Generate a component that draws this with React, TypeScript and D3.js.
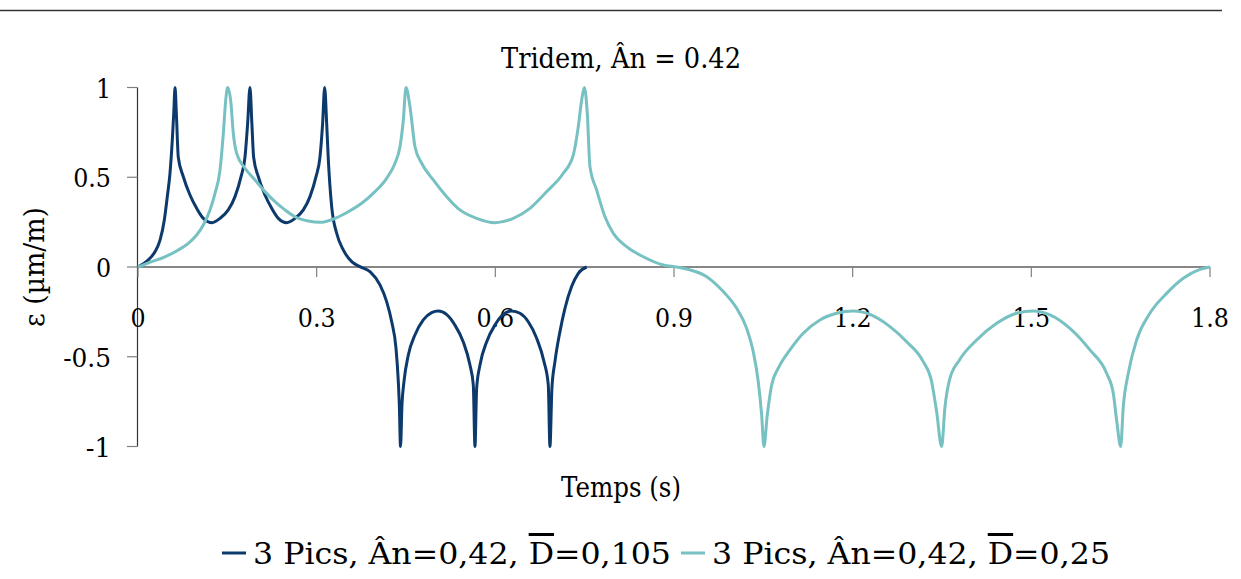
import React, { useRef, useEffect } from 'react';
import * as d3 from 'd3';

// 3 Pics, Ân=0,42, D=0,105
const darkTime = [
  0, 0.017, 0.0285, 0.037, 0.0442, 0.0492, 0.0537, 0.0576, 0.06, 0.0622,
  0.0644, 0.0677, 0.0761, 0.0873, 0.0985, 0.1097, 0.1245, 0.1377, 0.1516, 0.1629,
  0.173, 0.1797, 0.1841, 0.188, 0.1912, 0.1942, 0.202, 0.2132, 0.2245, 0.2356,
  0.2497, 0.2636, 0.2776, 0.2888, 0.2989, 0.3056, 0.31, 0.3134, 0.3168, 0.3196,
  0.3252, 0.3336, 0.3447, 0.3588, 0.3735, 0.3895, 0.4063, 0.4175, 0.426, 0.4332,
  0.4371, 0.4388, 0.4408, 0.4432, 0.4466, 0.4539, 0.465, 0.479, 0.493, 0.5043,
  0.518, 0.532, 0.546, 0.5574, 0.563, 0.5658, 0.5686, 0.5742, 0.5855, 0.5994,
  0.6133, 0.6274, 0.6414, 0.6553, 0.6694, 0.6817, 0.6889, 0.6917, 0.695, 0.7001,
  0.7085, 0.7169, 0.7281, 0.7393, 0.7534,
];
const darkStrain = [
  0, 0.039, 0.085, 0.15, 0.262, 0.392, 0.522, 0.708, 0.856, 1,
  0.856, 0.61, 0.503, 0.401, 0.327, 0.271, 0.247, 0.271, 0.318, 0.392,
  0.503, 0.614, 0.8, 1, 0.8, 0.61, 0.503, 0.401, 0.327, 0.271,
  0.247, 0.271, 0.318, 0.392, 0.503, 0.614, 0.8, 1, 0.8, 0.596,
  0.336, 0.188, 0.095, 0.03, 0.001, -0.026, -0.1, -0.193, -0.305, -0.453,
  -0.639, -0.769, -1, -0.77, -0.639, -0.49, -0.379, -0.295, -0.254, -0.245,
  -0.264, -0.323, -0.416, -0.546, -0.657, -1, -0.676, -0.546, -0.416, -0.323,
  -0.264, -0.245, -0.258, -0.305, -0.397, -0.527, -0.657, -1, -0.676, -0.527,
  -0.36, -0.23, -0.109, -0.035, 0,
];

// 3 Pics, Ân=0,42, D=0,25
const lightTime = [
  0, 0.023, 0.0453, 0.0677, 0.0845, 0.0985, 0.1097, 0.1209, 0.1293, 0.1377,
  0.1433, 0.1473, 0.1506, 0.1561, 0.16, 0.1657, 0.1797, 0.1964, 0.2132, 0.23,
  0.2468, 0.2636, 0.286, 0.3056, 0.3308, 0.3531, 0.3756, 0.3979, 0.4175, 0.4315,
  0.4399, 0.4455, 0.45, 0.4567, 0.4651, 0.4763, 0.4958, 0.5183, 0.5406, 0.5686,
  0.5994, 0.6301, 0.6582, 0.6862, 0.7141, 0.7309, 0.7393, 0.745, 0.7494, 0.7544,
  0.7589, 0.7701, 0.7841, 0.798, 0.8205, 0.8484, 0.882, 0.9045, 0.9212, 0.9548,
  0.9827, 1.0052, 1.022, 1.0331, 1.0415, 1.0472, 1.051, 1.0566, 1.064, 1.0751,
  1.0947, 1.117, 1.1451, 1.1731, 1.201, 1.229, 1.2626, 1.2906, 1.3185, 1.3326,
  1.341, 1.3494, 1.355, 1.3625, 1.3793, 1.4082, 1.4418, 1.4753, 1.5032, 1.5312,
  1.5648, 1.5984, 1.6264, 1.6376, 1.6432, 1.65, 1.6544, 1.6628, 1.6768, 1.6991,
  1.7272, 1.7551, 1.7831, 1.8,
];
const lightStrain = [
  0, 0.03, 0.057, 0.095, 0.132, 0.178, 0.234, 0.318, 0.41, 0.54,
  0.745, 0.93, 1, 0.912, 0.745, 0.633, 0.55, 0.485, 0.42, 0.364,
  0.318, 0.28, 0.256, 0.249, 0.271, 0.308, 0.355, 0.42, 0.494, 0.578,
  0.67, 0.819, 1, 0.893, 0.67, 0.578, 0.485, 0.392, 0.318, 0.271,
  0.247, 0.271, 0.327, 0.42, 0.522, 0.624, 0.782, 0.93, 1, 0.856,
  0.559, 0.429, 0.28, 0.188, 0.113, 0.057, 0.011, 0, -0.011, -0.054,
  -0.137, -0.23, -0.342, -0.472, -0.639, -0.825, -1, -0.825, -0.657, -0.564,
  -0.462, -0.369, -0.295, -0.258, -0.245, -0.264, -0.332, -0.416, -0.527, -0.639,
  -0.806, -1, -0.78, -0.63, -0.518, -0.407, -0.314, -0.258, -0.245, -0.267,
  -0.342, -0.462, -0.592, -0.704, -0.852, -1, -0.778, -0.592, -0.407, -0.258,
  -0.147, -0.063, -0.013, 0,
];

const xTicks = [0, 0.3, 0.6, 0.9, 1.2, 1.5, 1.8];
const yTicks = [-1, -0.5, 0, 0.5, 1];
const seriesLabels = [
  { pre: '3 Pics, Ân=0,42, ', bar: 'D', post: '=0,105' },
  { pre: '3 Pics, Ân=0,42, ', bar: 'D', post: '=0,25' },
];
const seriesColors = ['#0d3a6c', '#78c1c2'];

// only DejaVu Serif is around, so squeeze it to a Times-like width
const FONT = "'DejaVu Serif', serif";
const tickWidth = (s: string) =>
  s.split('').reduce((w, c) => w + (c === '.' ? 0.25 : c === '-' ? 0.333 : 0.5), 0) * 28 * 1.08;

export default function App() {
  const ref = useRef<SVGSVGElement | null>(null);

  useEffect(() => {
    document.body.style.margin = '0';
    if (!ref.current) return;
    const svg = d3.select(ref.current);
    svg.selectAll('*').remove();

    const x = d3.scaleLinear().domain([0, 1.8]).range([138, 1210]);
    const y = d3.scaleLinear().domain([-1, 1]).range([446.5, 87.5]);

    // thin rule along the top of the figure
    svg.append('line')
      .attr('x1', 0).attr('x2', 1222)
      .attr('y1', 10.5).attr('y2', 10.5)
      .attr('stroke', '#333').attr('stroke-width', 1.5);

    const addText = (txt: string, tx: number, ty: number, size: number, len: number, anchor = 'middle', rot = 0) =>
      svg.append('text')
        .attr('transform', `translate(${tx},${ty}) rotate(${rot})`)
        .attr('text-anchor', anchor)
        .style('font-family', FONT)
        .attr('font-size', size)
        .attr('fill', '#000')
        .attr('textLength', len)
        .attr('lengthAdjust', 'spacingAndGlyphs')
        .text(txt);

    addText('Tridem, Ân = 0.42', 621, 68, 27, 240);
    addText('Temps (s)', 621, 497, 27, 120);
    addText('ε (µm/m)', 44, 267, 27, 120, 'middle', -90);

    // y axis
    svg.append('line')
      .attr('x1', 137.5).attr('x2', 137.5)
      .attr('y1', y(1)).attr('y2', y(-1))
      .attr('stroke', '#333').attr('stroke-width', 1.2);
    yTicks.forEach(v => {
      svg.append('line')
        .attr('x1', 127).attr('x2', 137.5)
        .attr('y1', y(v)).attr('y2', y(v))
        .attr('stroke', '#808080').attr('stroke-width', 1.2);
      addText(String(v), 111, y(v) + 10, 26, tickWidth(String(v)), 'end');
    });

    // x axis at zero
    svg.append('line')
      .attr('x1', x(0)).attr('x2', x(1.8))
      .attr('y1', y(0)).attr('y2', y(0))
      .attr('stroke', '#111').attr('stroke-width', 1.2);
    xTicks.forEach(t => {
      svg.append('line')
        .attr('x1', x(t)).attr('x2', x(t))
        .attr('y1', y(0)).attr('y2', y(0) + 10)
        .attr('stroke', '#808080').attr('stroke-width', 1.2);
      addText(String(t), x(t), 327, 26, tickWidth(String(t)));
    });

    const line = d3.line<[number, number]>()
      .x(d => x(d[0]))
      .y(d => y(d[1]))
      .curve(d3.curveMonotoneX);

    const series: [number, number][][] = [
      darkTime.map((t, i) => [t, darkStrain[i]]),
      lightTime.map((t, i) => [t, lightStrain[i]]),
    ];
    series.forEach((pts, i) => {
      svg.append('path')
        .attr('d', line(pts) || '')
        .attr('fill', 'none')
        .attr('stroke', seriesColors[i])
        .attr('stroke-width', 3)
        .attr('stroke-linejoin', 'round');
    });

    // legend: dash + label, two entries side by side
    const legY = 553;
    const legStart = 222;
    const textLens = [418, 398];
    let cursor = legStart;
    seriesLabels.forEach((lab, i) => {
      svg.append('line')
        .attr('x1', cursor).attr('x2', cursor + 24)
        .attr('y1', legY).attr('y2', legY)
        .attr('stroke', seriesColors[i]).attr('stroke-width', 3);
      cursor += 31;
      const txt = svg.append('text')
        .attr('x', cursor).attr('y', legY + 11)
        .style('font-family', FONT)
        .attr('font-size', 30)
        .attr('fill', '#000')
        .attr('textLength', textLens[i])
        .attr('lengthAdjust', 'spacingAndGlyphs');
      txt.append('tspan').text(lab.pre);
      txt.append('tspan').style('text-decoration', 'overline').text(lab.bar);
      txt.append('tspan').text(lab.post);
      cursor += textLens[i] + 10;
    });
  }, []);

  return <svg ref={ref} width={1241} height={579} style={{ display: 'block' }} />;
}
